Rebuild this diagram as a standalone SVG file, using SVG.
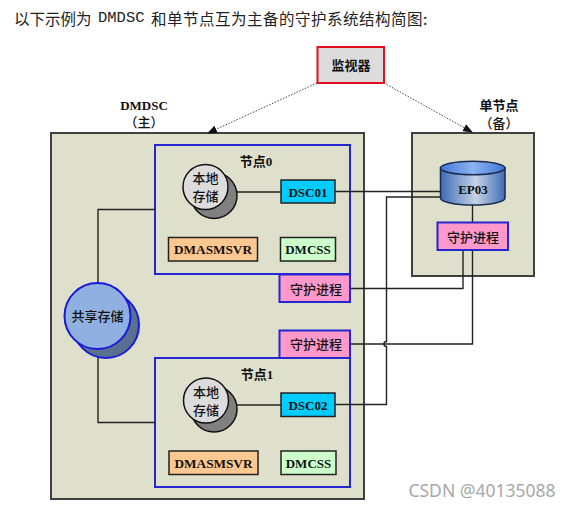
<svg xmlns="http://www.w3.org/2000/svg" width="570" height="508" viewBox="0 0 570 508">
<style>
text{font-family:"Liberation Serif","Noto Sans CJK SC",serif;fill:#111;text-anchor:middle;dominant-baseline:central}
.b{font-weight:bold;font-size:13px}
.m{font-size:13px;font-weight:500}
.p{fill:#dfe0cc;stroke:#404040;stroke-width:2}
.n{fill:none;stroke:#2626d0;stroke-width:2}
.g{fill:#ff99cc;stroke:#2626d0;stroke-width:2}
.k{stroke:#222;stroke-width:1.5}
.c{fill:#00ccff}.o{fill:#fdc88f}.s{fill:#ccffcc}
.l{fill:none;stroke:#222;stroke-width:1.4}
.d{fill:none;stroke:#444;stroke-width:1;stroke-dasharray:1.5 1.5}
</style>
<defs>
<marker id="a" markerWidth="10" markerHeight="8" refX="9" refY="4" orient="auto" markerUnits="userSpaceOnUse"><path d="M0 0L10 4L0 8Z" fill="#111"/></marker>
<linearGradient id="cy" x1="0" x2="1" y1="0" y2="0"><stop offset="0" stop-color="#3d6cb4"/><stop offset=".55" stop-color="#c5d3e6"/><stop offset="1" stop-color="#3d6cb4"/></linearGradient>
<linearGradient id="ct" x1="0" x2="1" y1="0" y2="0"><stop offset="0" stop-color="#3f78d8"/><stop offset=".5" stop-color="#8db4f0"/><stop offset="1" stop-color="#3f78d8"/></linearGradient>
</defs>
<rect width="570" height="508" fill="#fff"/>
<text id="title" x="14" y="18" style="text-anchor:start;font-size:15.500px;font-family:'Noto Sans CJK SC',sans-serif;fill:#222">以下示例为 <tspan x="98" style="font-family:'Liberation Mono',monospace;font-size:15.500px">DMDSC</tspan> <tspan x="151" letter-spacing="0.500">和单节点互为主备的守护系统结构简图:</tspan></text>
<g id="panel-main"><rect class="p" x="51" y="133" width="313" height="366"/></g>
<g id="panel-standby"><rect class="p" x="412" y="133" width="122" height="143"/></g>
<text id="label-dmdsc" class="b" x="144" y="105">DMDSC</text>
<text id="label-main" class="m" x="144" y="122">（主）</text>
<text id="label-single" class="b" x="499" y="105">单节点</text>
<text id="label-standby" class="m" x="499" y="123">（备）</text>
<g id="node0-box"><rect class="n" x="155" y="145" width="195" height="129"/><text class="b" x="256" y="161">节点0</text></g>
<g id="node1-box"><rect class="n" x="155" y="358" width="195" height="129"/><text class="b" x="257" y="374">节点1</text></g>
<g id="connectors">
<path class="d" d="M317 83L208 133" marker-end="url(#a)"/>
<path class="d" d="M384 83L472 132" marker-end="url(#a)"/>
<path class="l" d="M98 283V209.500H155"/>
<path class="l" d="M98 350V422.500H155"/>
<path class="l" d="M237 192H281"/>
<path class="l" d="M237 405H281"/>
<path class="l" d="M335 191.500H440"/>
<path class="l" d="M440 197H386.500V341.500A2.500 2.500 0 0 0 386.500 346.500V404.500H335"/>
<path class="l" d="M472.500 205V222M472.500 250V344H350"/>
<path class="l" d="M463 250V288.500H350"/>
</g>
<g id="monitor"><rect x="317.500" y="47" width="66.500" height="36" fill="#dcdcdc" stroke="#e01020" stroke-width="2"/><text class="b" x="351" y="65">监视器</text></g>
<g id="ep03">
<path d="M440.500 168V198A32 7 0 0 0 505 198V168Z" fill="url(#cy)" stroke="#1a2a50" stroke-width="1.500"/>
<ellipse cx="472.700" cy="168" rx="32.300" ry="6.800" fill="url(#ct)" stroke="#1a2a50" stroke-width="1.500"/>
<text class="b" x="473" y="189">EP03</text></g>
<g id="guard-standby"><rect class="g" x="437.500" y="222.500" width="70.500" height="27.500"/><text class="m" x="473" y="237">守护进程</text></g>
<g id="guard0"><rect class="g" x="279.500" y="274.500" width="70.500" height="27.500"/><text class="m" x="316" y="289">守护进程</text></g>
<g id="guard1"><rect class="g" x="279.500" y="330.500" width="70.500" height="27.500"/><text class="m" x="316" y="344">守护进程</text></g>
<g id="local0"><circle cx="214" cy="195.500" r="23" fill="#808080" stroke="#111" stroke-width="1.500"/><circle cx="205.500" cy="187" r="22.500" fill="#dcdcdc" stroke="#111" stroke-width="1.500"/><text class="m" x="205.500" y="178">本地</text><text class="m" x="205.500" y="196">存储</text></g>
<g id="local1"><circle cx="214" cy="409" r="23" fill="#808080" stroke="#111" stroke-width="1.500"/><circle cx="206" cy="400.500" r="22.500" fill="#dcdcdc" stroke="#111" stroke-width="1.500"/><text class="m" x="206" y="392">本地</text><text class="m" x="206" y="410">存储</text></g>
<g id="shared"><circle cx="106" cy="325" r="33" fill="#5a7090" stroke="#1a1ad8" stroke-width="2"/><circle cx="97.500" cy="316" r="33" fill="#8fb0e0" stroke="#1a1ad8" stroke-width="2"/><text class="m" x="97.500" y="316">共享存储</text></g>
<g id="dsc01"><rect class="k c" x="281" y="180" width="54" height="23"/><text class="b" x="308" y="192">DSC01</text></g>
<g id="dsc02"><rect class="k c" x="281" y="393" width="54" height="23.500"/><text class="b" x="308" y="405">DSC02</text></g>
<g id="dmasm0"><rect class="k o" x="168.500" y="237.500" width="89" height="23.500"/><text class="b" x="213" y="249" style="font-size:13.250px">DMASMSVR</text></g>
<g id="dmcss0"><rect class="k s" x="280.500" y="237.500" width="55" height="23.500"/><text class="b" x="308" y="249">DMCSS</text></g>
<g id="dmasm1"><rect class="k o" x="169" y="451" width="89" height="23.500"/><text class="b" x="213.500" y="463" style="font-size:13.250px">DMASMSVR</text></g>
<g id="dmcss1"><rect class="k s" x="281" y="451" width="55" height="23.500"/><text class="b" x="308.500" y="463">DMCSS</text></g>
<text id="watermark" x="482" y="490" style="font-family:'Noto Sans',sans-serif;font-size:17.500px;fill:#a8a8a8">CSDN @40135088</text>
</svg>
